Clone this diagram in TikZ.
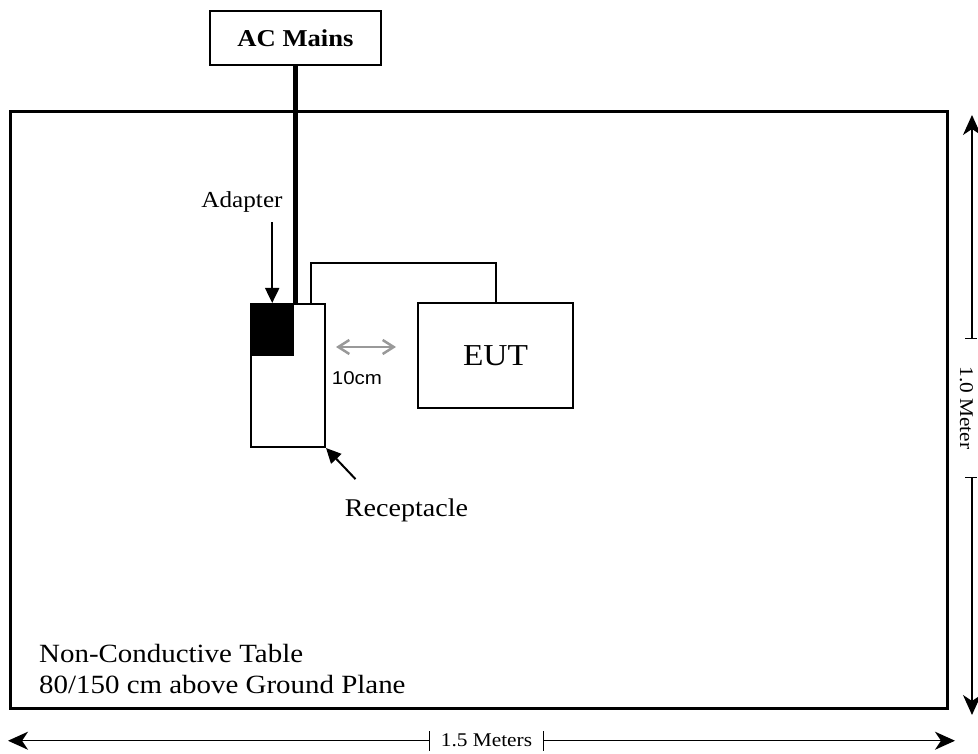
\documentclass[tikz,border=0pt]{standalone}
\usepackage{fontspec}
\setmainfont{Liberation Serif}[FakeStretch=1.1]
\newfontfamily\arialfont{Liberation Sans}[FakeStretch=1.1]
\usetikzlibrary{positioning,arrows.meta}

\begin{document}
\begin{tikzpicture}[x=1pt,y=1pt,
  box/.style={draw,line width=2pt,inner sep=0pt},
  pointer/.style={-{Triangle[length=15pt,width=14pt]},line width=2pt},
  dim/.style={line width=1.5pt},
  dimarrow/.style={dim,-{Stealth[length=20pt,width=18pt,inset=6pt]}},
  gap/.style={{Straight Barb[length=11pt,width=14pt]}-{Straight Barb[length=11pt,width=14pt]},line width=2.5pt,color=black!40}]
\useasboundingbox (0,0) rectangle (978,753);
\node (table) [draw,line width=3pt,minimum width=937pt,minimum height=597pt] at (479,342.5) {};
\node (mains) [box,minimum width=171pt,minimum height=54pt,font=\fontsize{24.2}{28}\selectfont\bfseries] at (295.5,715) {AC Mains};
\node (recept) [box,minimum width=74pt,minimum height=143pt] at (288,377.5) {};
\node (adapter) [fill=black,inner sep=0pt,minimum width=44pt,minimum height=53pt,anchor=north west] at (recept.north west) {};
\node (eut) [box,minimum width=155pt,minimum height=105pt,font=\fontsize{30.4}{34}\selectfont] at (495.5,397.5) {EUT};
\node (dist) [font=\arialfont\fontsize{18.6}{22}\selectfont,anchor=base] at (357,368) {10cm};
\node (adlbl) [font=\fontsize{22.9}{26}\selectfont,inner sep=0pt,anchor=base] at (242,545) {Adapter};
\node (rclbl) [font=\fontsize{25.5}{29}\selectfont,inner sep=0pt,anchor=base] at (406.5,236) {Receptacle};
\node (tbllbl) [font=\fontsize{26.3}{31}\selectfont,align=left,inner sep=0pt,anchor=north west] at (39,109) {Non-Conductive Table\\80/150 cm above Ground Plane};
\node (hlbl) [font=\fontsize{19.4}{22}\selectfont,rotate=-90,anchor=base,inner xsep=28pt,inner ysep=0pt] at (960,345) {1.0 Meter};
\node (wlbl) [font=\fontsize{19.4}{22}\selectfont,anchor=base,inner xsep=11pt,inner ysep=0pt] at (486.5,6) {1.5 Meters};
\coordinate (htop) at (972,638);
\coordinate (hbot) at (972,38);
\coordinate (wleft) at (8,13);
\coordinate (wright) at (955,13);

\draw[line width=5pt] (mains.south) -- (mains.south |- adapter.north);
\draw[line width=2pt] ([xshift=23pt]recept.north) -- ++(0,40) -| (eut.north);
\draw[gap] ([shift={(10,28.5)}]recept.east) -- ([shift={(-21,8.5)}]eut.west);
\draw[pointer] ([yshift=-9pt]adlbl.south -| adapter.north) -- (adapter.north);
\draw[pointer] ([shift={(-51,20)}]rclbl.north) -- (recept.south east);

\draw[dimarrow] (hlbl.west -| htop) -- (htop);
\draw[dimarrow] (hlbl.east -| hbot) -- (hbot);
\draw[dim] ([xshift=-7pt]hlbl.west -| htop) -- ([xshift=5pt]hlbl.west -| htop);
\draw[dim] ([xshift=-7pt]hlbl.east -| hbot) -- ([xshift=5pt]hlbl.east -| hbot);
\draw[dimarrow] (wlbl.west) -- (wlbl.west -| wleft);
\draw[dimarrow] (wlbl.east) -- (wlbl.east -| wright);
\draw[dim] ([yshift=-10pt]wlbl.west) -- ([yshift=10pt]wlbl.west);
\draw[dim] ([yshift=-10pt]wlbl.east) -- ([yshift=10pt]wlbl.east);
\end{tikzpicture}
\end{document}
